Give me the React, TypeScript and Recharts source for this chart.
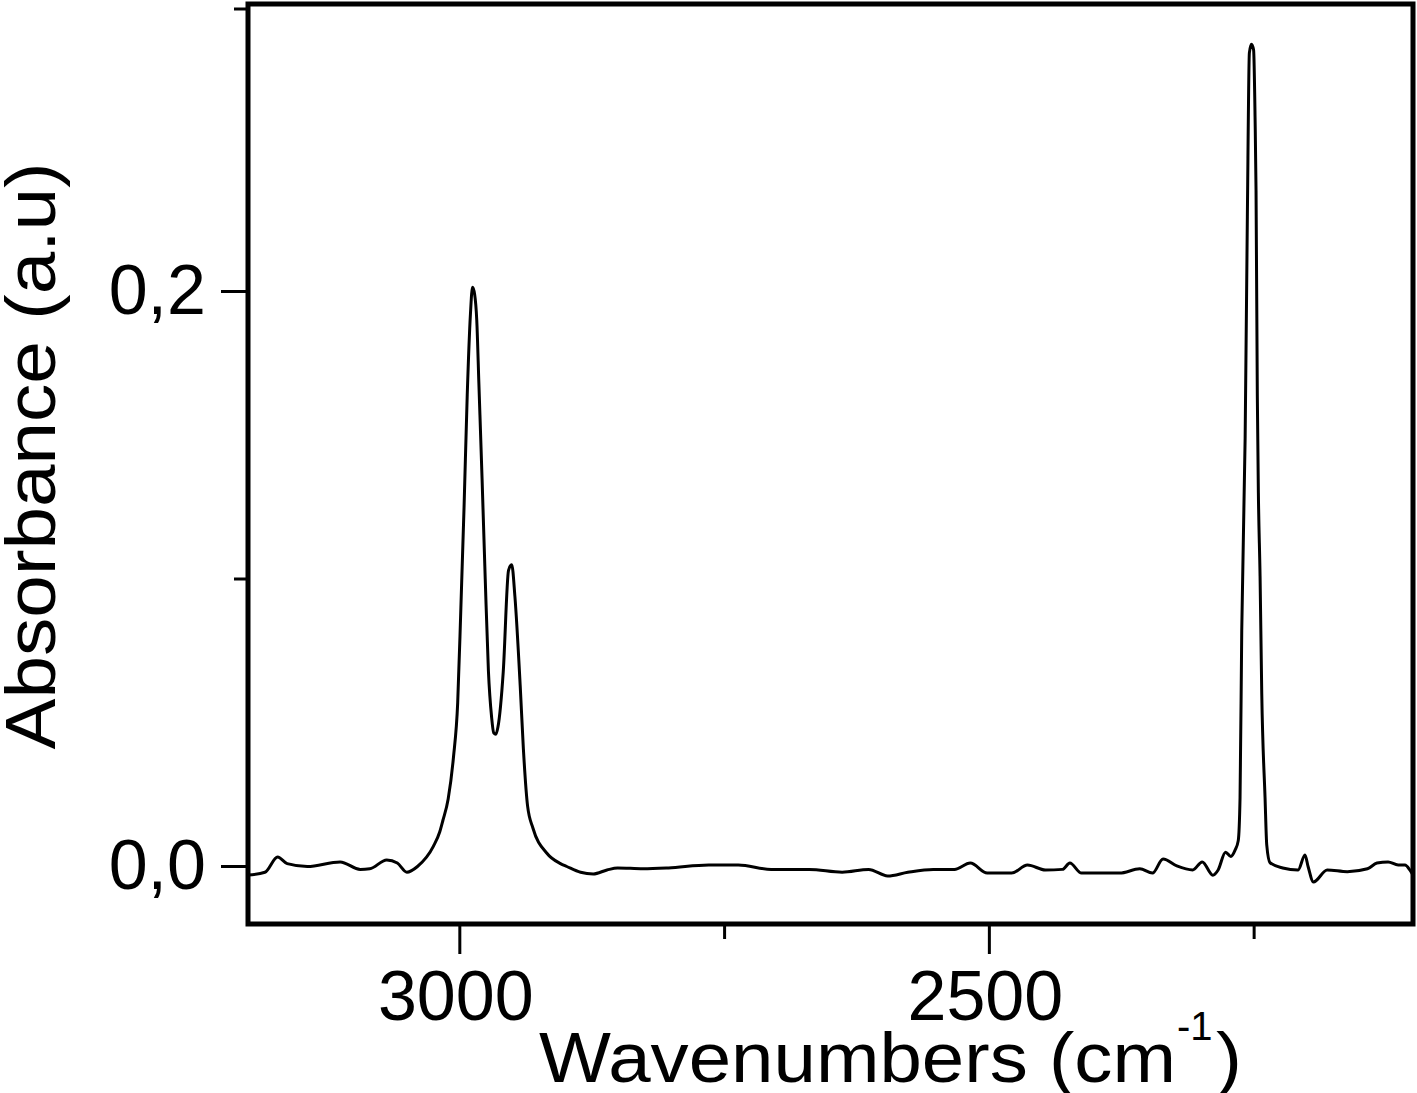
import React from 'react';
import { LineChart, Line, XAxis, YAxis, ReferenceArea } from 'recharts';

// FTIR spectrum
const wavenumbers = [
  3200, 3184, 3172, 3163, 3144, 3113, 3094, 3085, 3069, 3059, 3050, 3040, 3025, 3019, 3016, 3011,
  3006, 3002, 2999, 2996, 2993, 2990, 2988, 2986, 2984, 2982, 2979, 2976, 2973, 2970, 2968, 2966,
  2964, 2959, 2954, 2951, 2948, 2943, 2940, 2936, 2931, 2918, 2905, 2899, 2886, 2874, 2861, 2851,
  2827, 2803, 2765, 2737, 2706, 2670, 2639, 2614, 2596, 2577, 2553, 2533, 2518, 2502, 2479, 2464,
  2447, 2431, 2424, 2413, 2396, 2377, 2358, 2346, 2336, 2323, 2308, 2299, 2289, 2284, 2277, 2272,
  2268, 2265, 2263.3, 2261.7, 2258.5, 2256.4, 2254.5, 2252.5, 2250.5, 2249.1, 2248.2, 2247, 2246,
  2244.4, 2242.8, 2239.7, 2238.1, 2235, 2223, 2208.5, 2202, 2199, 2194, 2181, 2162, 2143, 2134,
  2123.5, 2114, 2107.6, 2103, 2100,
];

const absorbance = [
  -0.003, -0.002, 0.0033, 0.001, 0.0, 0.0016, -0.001, -0.0008, 0.0023, 0.0012, -0.002, 0.0, 0.007,
  0.012, 0.016, 0.0235, 0.038, 0.057, 0.09, 0.125, 0.164, 0.192, 0.2015, 0.199, 0.19, 0.168, 0.135,
  0.1, 0.068, 0.052, 0.0465, 0.046, 0.0485, 0.0677, 0.103, 0.105, 0.094, 0.063, 0.041, 0.021,
  0.0134, 0.0047, 0.001, 0.0, -0.002, -0.0026, -0.0012, -0.0005, -0.0008, -0.0005, 0.0005, 0.0005,
  -0.001, -0.001, -0.002, -0.001, -0.0033, -0.002, -0.001, -0.001, 0.0012, -0.0023, -0.0023, 0.0005,
  -0.0012, -0.001, 0.0012, -0.0023, -0.0023, -0.0023, -0.0008, -0.0023, 0.0026, 0.0002, -0.0012,
  0.0016, -0.003, -0.0012, 0.005, 0.0035, 0.0057, 0.009, 0.024, 0.082, 0.149, 0.226, 0.283, 0.286,
  0.284, 0.26, 0.235, 0.164, 0.13, 0.101, 0.06, 0.024, 0.0075, 0.0013, -0.0005, -0.0012, 0.004,
  -0.0001, -0.0054, -0.0012, -0.0018, -0.0008, 0.0012, 0.0016, 0.0005, 0.0005, -0.0012, -0.003,
];

const xTicks = [3000, 2750, 2500, 2250];
const xTickLabels: Record<number, string> = { 3000: '3000', 2500: '2500' };
const yTicks = [0, 0.1, 0.2, 0.3];
const yTickLabels: Record<number, string> = { 0: '0,0', 0.2: '0,2' };

const data = wavenumbers.map((wn, i) => ({ wn, abs: absorbance[i] }));

const FONT = '"Liberation Sans", Arial, sans-serif';

function XTick(props: any) {
  const { x, y, payload } = props;
  const label = xTickLabels[payload.value];
  const len = label ? 30 : 15;
  return (
    <g>
      <line x1={x} y1={y} x2={x} y2={y + len} stroke="#000" strokeWidth={3} />
      {label && (
        <text x={x - 4} y={y + 96} textAnchor="middle" fontFamily={FONT} fontSize={70} fill="#000">
          {label}
        </text>
      )}
    </g>
  );
}

function YTick(props: any) {
  const { x, y, payload } = props;
  const label = yTickLabels[payload.value];
  const len = label ? 27 : 14;
  return (
    <g>
      <line x1={x - len} y1={y} x2={x} y2={y} stroke="#000" strokeWidth={3} />
      {label && (
        <text x={x - 42} y={y + 22} textAnchor="end" fontFamily={FONT} fontSize={70} fill="#000">
          {label}
        </text>
      )}
    </g>
  );
}

function XTitle(props: any) {
  const vb = props.viewBox || { x: 248, y: 924 };
  const left = vb.x + 291;
  const base = vb.y + 158;
  return (
    <g fontFamily={FONT} fill="#000">
      <text x={left} y={base} fontSize={70} textLength={637} lengthAdjust="spacingAndGlyphs">
        Wavenumbers (cm
      </text>
      <text x={left + 638} y={base - 42} fontSize={40}>
        -1
      </text>
      <text x={left + 677} y={base} fontSize={70} textLength={26} lengthAdjust="spacingAndGlyphs">
        )
      </text>
    </g>
  );
}

function YTitle(props: any) {
  const vb = props.viewBox || { x: 0, y: 4, height: 920 };
  const cx = 55;
  const cy = vb.y + 452;
  return (
    <text
      x={cx}
      y={cy}
      transform={`rotate(-90, ${cx}, ${cy})`}
      textAnchor="middle"
      fontFamily={FONT}
      fontSize={70}
      fill="#000"
      textLength={587}
      lengthAdjust="spacingAndGlyphs"
    >
      Absorbance (a.u)
    </text>
  );
}

export default function App() {
  return (
    <div style={{ position: 'absolute', left: 0, top: 0, width: 1417, height: 1093, background: '#fff' }}>
      <LineChart width={1417} height={1093} data={data} margin={{ top: 4, right: 4, left: 0, bottom: 0 }}>
        <XAxis
          dataKey="wn"
          type="number"
          domain={[2100, 3200]}
          reversed
          allowDataOverflow
          ticks={xTicks}
          tick={<XTick />}
          tickLine={false}
          axisLine={false}
          tickSize={0}
          tickMargin={0}
          height={169}
          label={{ content: (p: any) => <XTitle {...p} /> }}
        />
        <YAxis
          dataKey="abs"
          type="number"
          domain={[-0.02, 0.3]}
          allowDataOverflow
          ticks={yTicks}
          tick={<YTick />}
          tickLine={false}
          axisLine={false}
          tickSize={0}
          tickMargin={0}
          width={248}
          label={{ content: (p: any) => <YTitle {...p} /> }}
        />
        <ReferenceArea
          x1={3200}
          x2={2100}
          y1={-0.02}
          y2={0.3}
          fill="none"
          fillOpacity={0}
          stroke="#000"
          strokeWidth={5}
          strokeOpacity={1}
          ifOverflow="visible"
        />
        <Line
          type="monotone"
          dataKey="abs"
          stroke="#000"
          strokeWidth={3}
          dot={false}
          activeDot={false}
          isAnimationActive={false}
        />
      </LineChart>
    </div>
  );
}
